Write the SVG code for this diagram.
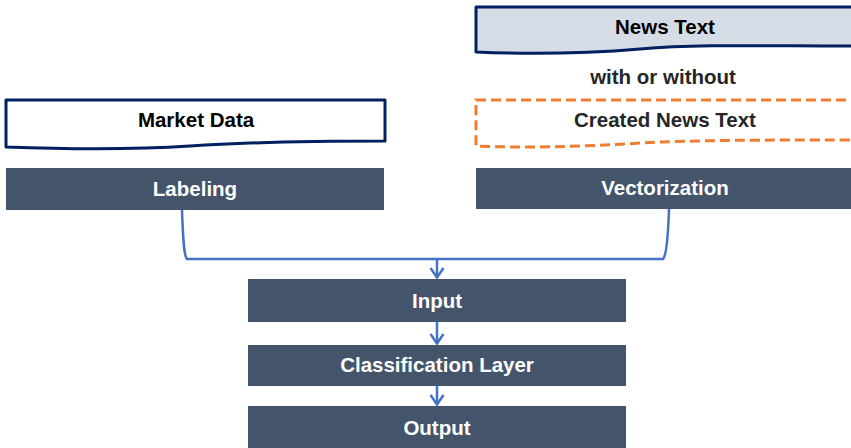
<svg xmlns="http://www.w3.org/2000/svg" width="851" height="448" viewBox="0 0 851 448">
<defs>
<style>
.t{font-family:"Liberation Sans",Arial,sans-serif;font-weight:bold;font-size:20.5px;text-anchor:middle;dominant-baseline:central}
.dk{fill:#000}
.gr{fill:#262626}
.wh{fill:#fff}
.blk{fill:#44546A}
.doc{stroke:#002060;stroke-width:3;stroke-linejoin:round}
.con{fill:none;stroke:#4472C4;stroke-width:2.5}
</style>
<marker id="ah" viewBox="0 0 12 16" refX="11" refY="8" markerWidth="12" markerHeight="16" markerUnits="userSpaceOnUse" orient="auto">
<path d="M1,1.5 L10.5,8 L1,14.5" fill="none" stroke="#4472C4" stroke-width="2.5"/>
</marker>
</defs>
<rect width="851" height="448" fill="#fff"/>
<g id="news-text">
<path class="doc" d="M476,7 H853 V46 C760,46 700,44 640,49 C580,54 520,54 476,52 Z" fill="#D6DCE5"/>
<text class="t dk" x="665" y="26">News Text</text>
</g>
<g id="with-or-without">
<text class="t gr" x="663" y="76">with or without</text>
</g>
<g id="created-news-text">
<path d="M476,100 H853 V140 C760,140 700,140 640,143 C580,147 520,148 476,146 Z" fill="#fff" stroke="#ED7D31" stroke-width="3" stroke-dasharray="10,5"/>
<text class="t gr" x="665" y="119">Created News Text</text>
</g>
<g id="market-data">
<path class="doc" d="M6,100 H385 V141 C300,141 250,142 190,146 C130,150 60,149 6,147 Z" fill="#fff"/>
<text class="t dk" x="196" y="119">Market Data</text>
</g>
<g id="labeling">
<rect class="blk" x="6" y="168" width="378" height="42"/>
<text class="t wh" x="195" y="188">Labeling</text>
</g>
<g id="vectorization">
<rect class="blk" x="476" y="168" width="375" height="41"/>
<text class="t wh" x="665" y="187">Vectorization</text>
</g>
<g id="input">
<rect class="blk" x="248" y="279" width="378" height="43"/>
<text class="t wh" x="437" y="300">Input</text>
</g>
<g id="classification-layer">
<rect class="blk" x="248" y="345" width="378" height="41"/>
<text class="t wh" x="437" y="364">Classification Layer</text>
</g>
<g id="output">
<rect class="blk" x="248" y="406" width="378" height="42"/>
<text class="t wh" x="437" y="427">Output</text>
</g>
<g id="connectors">
<path class="con" d="M182,210 C183,240 184,256 187,259 H663 C666,256 668,240 669,209"/>
<path class="con" d="M437,259 V278" marker-end="url(#ah)"/>
<path class="con" d="M437,322 V344" marker-end="url(#ah)"/>
<path class="con" d="M437,386 V405" marker-end="url(#ah)"/>
</g>
</svg>
